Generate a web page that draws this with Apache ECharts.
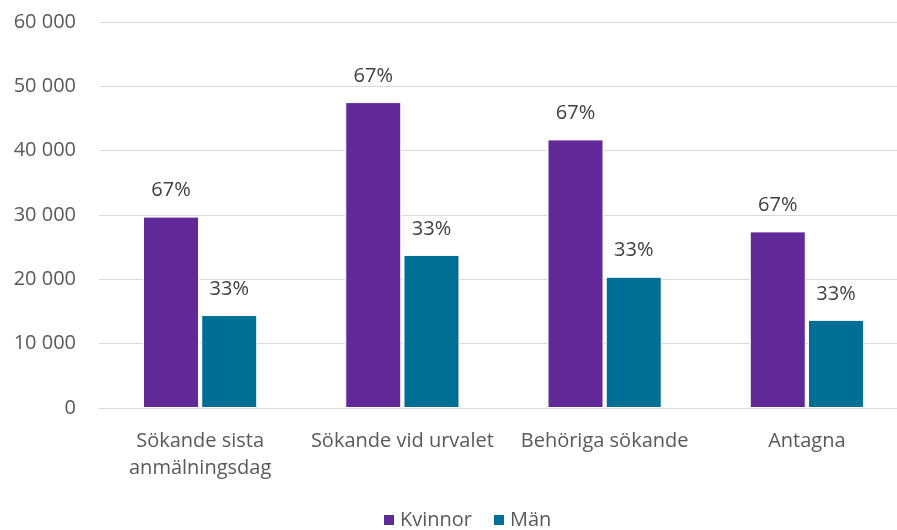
<!DOCTYPE html>
<html>
<head>
<meta charset="utf-8">
<script src="https://cdn.jsdelivr.net/npm/echarts@6/dist/echarts.min.js"></script>
<style>
  html, body { margin: 0; padding: 0; background: #fff; }
  #chart { width: 897px; height: 530px; }
</style>
</head>
<body>
<div id="chart"></div>
<script>
  var categories = ['Sökande sista\nanmälningsdag', 'Sökande vid urvalet', 'Behöriga sökande', 'Antagna'];
  var kvinnor = [29750, 47550, 41750, 27450];
  var man = [14450, 23800, 20400, 13700];
  var yTicks = [0, 10000, 20000, 30000, 40000, 50000, 60000];

  // andel av totalen per kategori
  function share(i, own) {
    return Math.round(own / (kvinnor[i] + man[i]) * 100) + '%';
  }

  var chart = echarts.init(document.getElementById('chart'));
  var font = '"Open Sans", sans-serif';

  var labelOption = {
    show: true,
    position: 'top',
    distance: 16,
    color: '#404040',
    fontSize: 20,
    fontFamily: font
  };

  var option = {
    animation: false,
    textStyle: { fontFamily: font },
    grid: { left: 99, width: 809, top: 22, bottom: 122, outerBoundsMode: 'none', containLabel: false },
    legend: {
      left: 377,
      top: 505,
      itemWidth: 12,
      itemHeight: 12,
      itemGap: 20,
      icon: 'rect',
      textStyle: { fontSize: 20, color: '#595959', fontFamily: font },
      data: ['Kvinnor', 'Män']
    },
    xAxis: {
      type: 'category',
      data: categories,
      axisTick: { show: false },
      axisLine: { lineStyle: { color: '#d9d9d9', width: 1 } },
      axisLabel: { interval: 0, color: '#595959', fontSize: 20, margin: 20, lineHeight: 27, fontFamily: font }
    },
    yAxis: {
      type: 'value',
      min: yTicks[0],
      max: yTicks[yTicks.length - 1],
      interval: 10000,
      axisLine: { show: false },
      axisTick: { show: false },
      splitLine: { lineStyle: { color: '#d9d9d9', width: 1 } },
      axisLabel: {
        color: '#595959', fontSize: 20, margin: 23, fontFamily: font,
        formatter: function (v) { return String(v).replace(/\B(?=(\d{3})+(?!\d))/g, ' '); }
      }
    },
    series: [
      {
        name: 'Kvinnor',
        type: 'bar',
        barWidth: 56,
        barGap: '4%',
        itemStyle: { color: '#612898', borderColor: '#ffffff', borderWidth: 1 },
        label: Object.assign({}, labelOption, {
          formatter: function (p) { return share(p.dataIndex, kvinnor[p.dataIndex]); }
        }),
        data: kvinnor
      },
      {
        name: 'Män',
        type: 'bar',
        barWidth: 56,
        itemStyle: { color: '#006f96', borderColor: '#ffffff', borderWidth: 1 },
        label: Object.assign({}, labelOption, {
          formatter: function (p) { return share(p.dataIndex, man[p.dataIndex]); }
        }),
        data: man
      }
    ]
  };

  chart.setOption(option);
</script>
</body>
</html>
